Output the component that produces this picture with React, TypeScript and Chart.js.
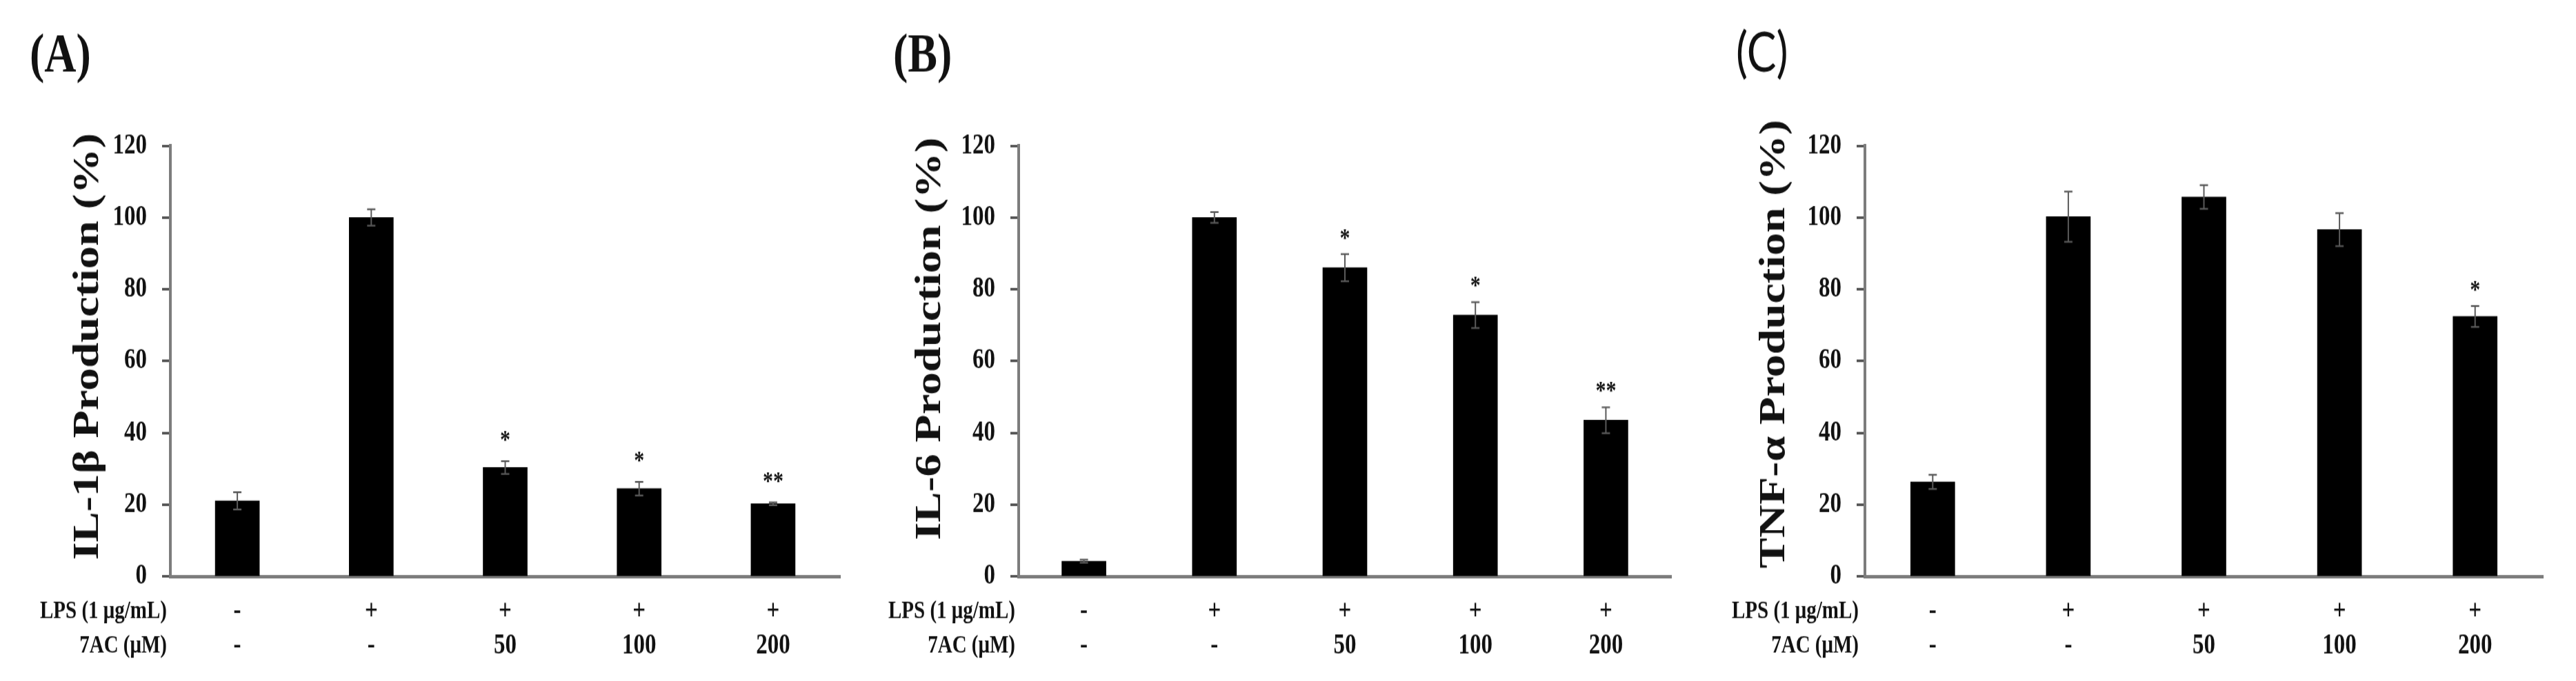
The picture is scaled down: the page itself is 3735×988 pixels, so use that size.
import React, { useEffect, useRef } from 'react';
import { Chart, registerables } from 'chart.js';

Chart.register(...registerables);

// ---------- data ----------
const categories = ['Control', 'LPS', 'LPS + 7AC 50', 'LPS + 7AC 100', 'LPS + 7AC 200'];
const lpsRow = ['-', '+', '+', '+', '+'];
const acRow = ['-', '-', '50', '100', '200'];
const rowLabels = ['LPS (1 μg/mL)', '7AC (μM)'];
const yMin = 0;
const yMax = 120;
const yStep = 20;

const il1bValues = [21.0, 100.0, 30.3, 24.4, 20.2];
const il1bErrors = [2.4, 2.3, 1.8, 1.9, 0.4];
const il1bSig = ['', '', '*', '*', '**'];

const il6Values = [4.2, 100.0, 86.0, 72.8, 43.5];
const il6Errors = [0.4, 1.5, 3.8, 3.6, 3.6];
const il6Sig = ['', '', '*', '*', '**'];

const tnfValues = [26.3, 100.2, 105.7, 96.6, 72.4];
const tnfErrors = [2.0, 7.0, 3.3, 4.6, 2.9];
const tnfSig = ['', '', '', '', '*'];

const panelLetters = ['(A)', '(B)', '(C)'];
const yTitles = ['IL-1β Production (%)', 'IL-6 Production (%)', 'TNF-α Production (%)'];

// ---------- layout / style ----------
const PAGE_W = 3735;
const PAGE_H = 988;
const DRAW_H = 790; // canvas bitmap height, stretched to PAGE_H (reference is vertically stretched)
const PLOT_TOP = 169;
const PLOT_BOTTOM = 668.5;
const SERIF = "'Liberation Serif', 'Times New Roman', serif";
const TEXT = '#111111';
const AXIS = '#7c7c7c';
const ERR = '#5a5a5a';

type PanelDef = {
  left: number;
  width: number;
  plotLeft: number;
  plotRight: number;
  titleX: number;
  titleY: number;
  starGap: number;
  letterX: number;
  letterFont: string;
  rowLabelX: number;
  letter: string;
  yTitle: string;
  values: number[];
  errors: number[];
  sig: string[];
};

const panels: PanelDef[] = [
  { left: 0, width: 1240, plotLeft: 247, plotRight: 1218, titleX: 142, titleY: 402, starGap: 16, letterX: 43,
    letterFont: `bold 64px ${SERIF}`, rowLabelX: 242, letter: panelLetters[0], yTitle: yTitles[0],
    values: il1bValues, errors: il1bErrors, sig: il1bSig },
  { left: 1240, width: 1230, plotLeft: 237, plotRight: 1183, titleX: 123, titleY: 393, starGap: 10, letterX: 55,
    letterFont: `bold 64px ${SERIF}`, rowLabelX: 232, letter: panelLetters[1], yTitle: yTitles[1],
    values: il6Values, errors: il6Errors, sig: il6Sig },
  { left: 2470, width: 1265, plotLeft: 234, plotRight: 1217, titleX: 117, titleY: 399, starGap: 10, letterX: 47,
    letterFont: `64px Lato, 'Open Sans', sans-serif`, rowLabelX: 225, letter: panelLetters[2], yTitle: yTitles[2],
    values: tnfValues, errors: tnfErrors, sig: tnfSig },
];

function makeOverlay(p: PanelDef) {
  return {
    id: 'overlay',
    afterDatasetsDraw(chart: any) {
      const ctx = chart.ctx as CanvasRenderingContext2D;
      const meta = chart.getDatasetMeta(0);
      const y = chart.scales.y;
      ctx.save();
      ctx.strokeStyle = ERR;
      ctx.lineWidth = 2;
      meta.data.forEach((bar: any, i: number) => {
        const x = bar.x;
        const top = y.getPixelForValue(p.values[i] + p.errors[i]);
        const bot = y.getPixelForValue(p.values[i] - p.errors[i]);
        ctx.beginPath();
        ctx.moveTo(x, top);
        ctx.lineTo(x, bot);
        ctx.moveTo(x - 6, top);
        ctx.lineTo(x + 6, top);
        ctx.moveTo(x - 6, bot);
        ctx.lineTo(x + 6, bot);
        ctx.stroke();
        if (p.sig[i]) {
          ctx.fillStyle = TEXT;
          ctx.font = `bold 30px ${SERIF}`;
          ctx.textAlign = 'center';
          ctx.textBaseline = 'alphabetic';
          ctx.fillText(p.sig[i], x, top - p.starGap);
        }
      });
      ctx.restore();
    },
    afterDraw(chart: any) {
      const ctx = chart.ctx as CanvasRenderingContext2D;
      ctx.save();
      ctx.fillStyle = TEXT;
      ctx.font = p.letterFont;
      ctx.textAlign = 'left';
      ctx.textBaseline = 'alphabetic';
      ctx.fillText(p.letter, p.letterX, 83);
      ctx.font = `bold 29px ${SERIF}`;
      ctx.textAlign = 'right';
      ctx.textBaseline = 'middle';
      ctx.fillText(rowLabels[0], p.rowLabelX, 710);
      ctx.fillText(rowLabels[1], p.rowLabelX, 750);
      // y-axis title
      ctx.translate(p.titleX, p.titleY);
      ctx.rotate(-Math.PI / 2);
      ctx.font = `bold 53px ${SERIF}`;
      ctx.textAlign = 'center';
      ctx.textBaseline = 'alphabetic';
      ctx.fillText(p.yTitle, 0, 0);
      ctx.restore();
    },
  };
}

function Panel({ p }: { p: PanelDef }) {
  const ref = useRef<HTMLCanvasElement>(null);
  useEffect(() => {
    const chart = new Chart(ref.current as HTMLCanvasElement, {
      type: 'bar',
      data: {
        labels: categories,
        datasets: [
          {
            data: p.values,
            backgroundColor: '#000000',
            borderWidth: 0,
            barThickness: 64,
          },
        ],
      },
      options: {
        responsive: false,
        animation: false,
        devicePixelRatio: 1,
        layout: {
          autoPadding: false,
          padding: { left: 0, right: p.width - p.plotRight, top: PLOT_TOP, bottom: 0 },
        },
        plugins: {
          legend: { display: false },
          tooltip: { enabled: false },
          title: { display: false },
        },
        scales: {
          x: {
            grid: { display: false, drawTicks: false },
            border: { display: true, color: AXIS, width: 4 },
            ticks: {
              autoSkip: false,
              maxRotation: 0,
              padding: 21.5,
              color: TEXT,
              font: { family: SERIF, size: 33, weight: 'bold', lineHeight: 1.21 },
              callback: (_v: any, i: number) => [lpsRow[i], acRow[i]],
            },
            afterFit: (s: any) => {
              s.height = DRAW_H - PLOT_BOTTOM;
              s.paddingLeft = 0;
              s.paddingRight = 0;
            },
          },
          y: {
            min: yMin,
            max: yMax,
            ticks: {
              stepSize: yStep,
              padding: 22,
              color: TEXT,
              font: { family: SERIF, size: 33, weight: 'bold' },
            },
            grid: {
              drawOnChartArea: false,
              drawTicks: true,
              tickLength: 12,
              tickWidth: 3,
              tickColor: '#555555',
            },
            border: { display: true, color: AXIS, width: 4 },
            title: { display: false },
            afterFit: (s: any) => {
              s.width = p.plotLeft;
              s.paddingTop = 0;
              s.paddingBottom = 0;
            },
          },
        },
      } as any,
      plugins: [makeOverlay(p)],
    });
    return () => chart.destroy();
  }, [p]);
  return (
    <canvas
      ref={ref}
      width={p.width}
      height={DRAW_H}
      style={{
        position: 'absolute',
        left: p.left + 'px',
        top: '0px',
        width: p.width + 'px',
        height: PAGE_H + 'px',
      }}
    />
  );
}

export default function App() {
  return (
    <div
      style={{
        position: 'absolute',
        left: 0,
        top: 0,
        width: PAGE_W + 'px',
        height: PAGE_H + 'px',
        background: '#ffffff',
        overflow: 'hidden',
      }}
    >
      {panels.map((p, i) => (
        <Panel key={i} p={p} />
      ))}
    </div>
  );
}
